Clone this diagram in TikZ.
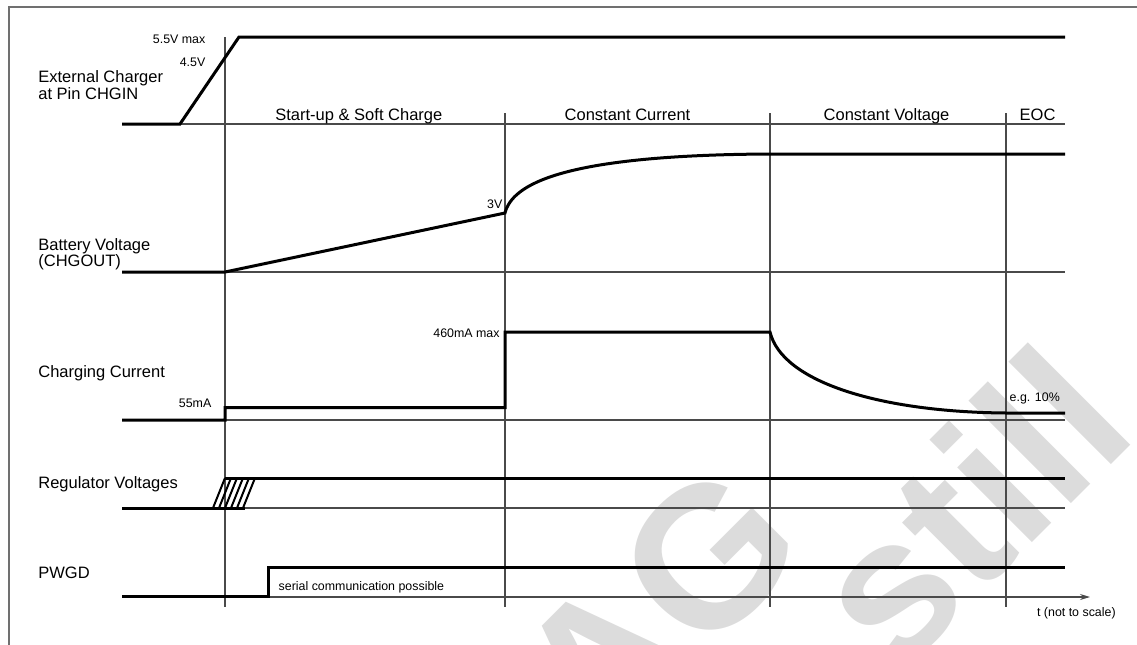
\documentclass[tikz,border=0pt]{standalone}
\usepackage{fontspec}
\setmainfont{Liberation Sans}
\usetikzlibrary{arrows.meta}
\definecolor{gridgray}{HTML}{4A4A4A}
\definecolor{framegray}{HTML}{707070}
\definecolor{wmgray}{HTML}{DCDCDC}
\tikzset{
  sig/.style={line width=1.5pt, black, line join=miter},
  grid/.style={line width=0.55pt, gridgray},
  lbl/.style={inner sep=0pt, font=\fontsize{8.25}{8.35}\selectfont},
  sml/.style={inner sep=0pt, font=\fontsize{6.2}{7}\selectfont},
  hatch/.style={line width=1pt, black},
  wm/.style={inner sep=0pt, text=wmgray, rotate=45, font=\fontsize{100}{100}\selectfont\bfseries}
}
\begin{document}
\begin{tikzpicture}[x=0.5pt,y=-0.5pt]
\useasboundingbox (0,0) rectangle (1137,644);
% watermark
\begin{scope}
\clip (0,0) rectangle (1137,644);
\node[wm] (wmA) at (658,608) {AG};
\node[wm] (wmB) at (968,506) {still};
\end{scope}
% frame
\draw[line width=1pt, framegray] (8.5,650) -- (8.5,6.5) -- (1145,6.5);
% grid: baselines
\draw[grid] (122,124) -- (1065,124);
\draw[grid] (122,272) -- (1065,272);
\draw[grid] (122,420) -- (1065,420);
\draw[grid] (122,508) -- (1065,508);
\coordinate (axS) at (122,597);
\coordinate (axE) at (1090,597);
\draw[grid, -{Stealth[length=5pt,width=3pt]}] (axS) -- (axE);
% vertical phase lines
\draw[grid] (225,37) -- (225,607);
\draw[grid] (505,113) -- (505,607);
\draw[grid] (770,113) -- (770,607);
\draw[grid] (1006,113) -- (1006,607);
% row 1: external charger
\draw[sig] (122,124) -- (180,124) -- (239,37) -- (1065,37);
% row 2: battery voltage
\draw[sig] (122,272) -- (225,272) -- (505,213)
  .. controls (512,185) and (560,155) .. (770,154) -- (1065,154);
% row 3: charging current
\draw[sig] (122,420) -- (225,420) -- (225,407.5) -- (505,407.5) -- (505,332) -- (770,332)
  .. controls (782,382) and (880,412) .. (1006,413) -- (1065,413);
% row 4: regulator voltages
\draw[sig] (122,508) -- (245,508);
\draw[sig] (225,478) -- (1065,478);
\foreach \k in {0,...,5}{
  \draw[hatch] ({213+6*\k},508) -- ({225+6*\k},478);
}
% row 5: PWGD
\draw[sig] (122,596) -- (268,596) -- (268,567) -- (1065,567);
% left labels
\node[lbl, anchor=base west] (l1a) at (38,82.3) {External Charger};
\node[lbl, anchor=base west] (l1b) at (38,99) {at Pin CHGIN};
\node[lbl, anchor=base west] (l2a) at (38,250) {Battery Voltage};
\node[lbl, anchor=base west] (l2b) at (38,266.7) {(CHGOUT)};
\node[lbl, anchor=base west] (l3) at (38,377.7) {Charging Current};
\node[lbl, anchor=base west] (l4) at (38,488.5) {Regulator Voltages};
\node[lbl, anchor=base west] (l5) at (38,578.5) {PWGD};
% phase labels
\node[lbl, anchor=base east] (p1) at (442.7,120) {Start-up \& Soft Charge};
\node[lbl, anchor=base west] (p2) at (564.3,120) {Constant Current};
\node[lbl, anchor=base west] (p3) at (823.3,120) {Constant Voltage};
\node[lbl, anchor=base west] (p4) at (1019.3,120) {EOC};
% small labels
\node[sml, anchor=base east] (v55) at (205.7,43.3) {5.5V max};
\node[sml, anchor=base east] (v45) at (205.7,66) {4.5V};
\node[sml, anchor=base east] (v3) at (502.7,208.3) {3V};
\node[sml, anchor=base east] (i460) at (500,337.3) {460mA max};
\node[sml, anchor=base east] (i55) at (211.7,407.3) {55mA};
\node[sml, anchor=base west] (ieg) at (1009.3,401.7) {e.g. 10\%};
\node[sml, anchor=base west] (ser) at (278.3,590) {serial communication possible};
\node[sml, anchor=base west] (tax) at (1036.7,616) {t (not to scale)};
\end{tikzpicture}
\end{document}
